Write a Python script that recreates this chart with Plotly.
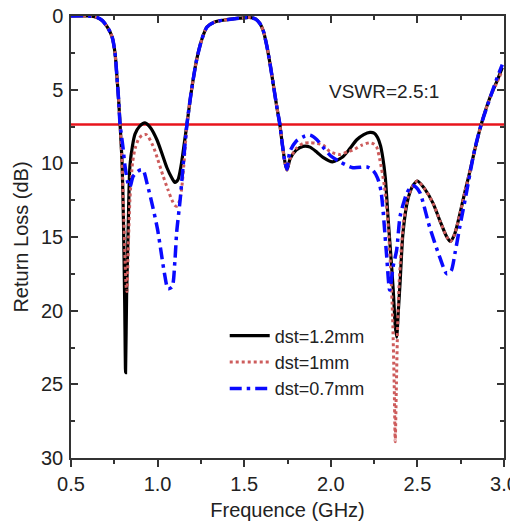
import plotly.graph_objects as go

# ---------------- data ----------------
freq_12 = [0.50, 0.60, 0.65, 0.68, 0.71, 0.737, 0.754, 0.765, 0.775, 0.783, 0.795, 0.803, 0.810, 0.815,
           0.821, 0.830, 0.840, 0.855, 0.870, 0.895, 0.927, 0.960, 0.996, 1.030, 1.054, 1.080, 1.100,
           1.118, 1.135, 1.150, 1.170, 1.195, 1.225, 1.255, 1.285, 1.33, 1.40, 1.47, 1.53, 1.565,
           1.59, 1.61, 1.63, 1.65, 1.67, 1.69, 1.705, 1.72, 1.735, 1.747, 1.765, 1.80, 1.84, 1.88,
           1.92, 1.955, 2.01, 2.07, 2.11, 2.15, 2.19, 2.226, 2.25, 2.27, 2.287, 2.30, 2.315, 2.33,
           2.345, 2.36, 2.372, 2.38, 2.39, 2.40, 2.417, 2.446, 2.475, 2.50, 2.54, 2.59, 2.63, 2.67,
           2.69, 2.715, 2.746, 2.775, 2.80, 2.835, 2.87, 2.92, 2.96, 2.99]
rl_12 = [0.0, 0.0, 0.1, 0.3, 0.75, 1.4, 2.5, 4.1, 5.7, 7.3, 10.0, 14.0, 19.5, 24.2,
         19.0, 14.5, 10.2, 8.8, 8.0, 7.5, 7.25, 7.6, 8.4, 9.5, 10.3, 10.95, 11.3,
         11.1, 10.2, 9.0, 7.3, 5.1, 3.0, 1.6, 0.75, 0.4, 0.25, 0.15, 0.1, 0.2,
         0.5, 1.0, 2.0, 3.3, 4.8, 6.3, 7.3, 8.7, 9.9, 10.45, 9.7, 9.1, 8.85, 8.9,
         9.25, 9.6, 9.9, 9.55, 9.0, 8.4, 8.05, 7.9, 7.95, 8.25, 8.8, 9.6, 11.0, 13.6,
         16.0, 18.5, 21.0, 21.8, 20.0, 18.1, 14.7, 12.4, 11.5, 11.2, 11.7, 12.7, 13.9, 15.0,
         15.3, 14.8, 13.4, 11.9, 10.7, 8.9, 7.3, 5.5, 4.4, 3.5]

freq_10 = [0.50, 0.60, 0.65, 0.68, 0.71, 0.737, 0.754, 0.765, 0.775, 0.783, 0.795, 0.803, 0.812, 0.818,
           0.823, 0.830, 0.840, 0.855, 0.870, 0.890, 0.910, 0.935, 0.973, 1.00, 1.03, 1.06, 1.083,
           1.100, 1.112, 1.128, 1.140, 1.155, 1.170, 1.195, 1.225, 1.255, 1.285, 1.33, 1.40, 1.47,
           1.53, 1.565, 1.59, 1.61, 1.63, 1.65, 1.67, 1.69, 1.705, 1.72, 1.735, 1.747, 1.765, 1.80,
           1.84, 1.88, 1.92, 1.955, 1.995, 2.053, 2.10, 2.128, 2.18, 2.226, 2.25, 2.265, 2.284,
           2.31, 2.33, 2.345, 2.357, 2.366, 2.372, 2.378, 2.386, 2.395, 2.405, 2.42, 2.446, 2.475,
           2.50, 2.54, 2.59, 2.63, 2.67, 2.69, 2.715, 2.746, 2.775, 2.80, 2.835, 2.87, 2.92, 2.96, 2.99]
rl_10 = [0.0, 0.0, 0.1, 0.3, 0.75, 1.4, 2.5, 4.1, 5.7, 7.3, 10.0, 13.0, 16.5, 18.3,
         18.7, 16.0, 12.5, 10.0, 9.0, 8.35, 8.1, 8.05, 8.8, 9.7, 10.8, 11.8, 12.5,
         12.85, 12.9, 12.5, 11.6, 9.6, 7.3, 5.1, 3.0, 1.6, 0.75, 0.4, 0.25, 0.15,
         0.1, 0.2, 0.5, 1.0, 2.0, 3.3, 4.8, 6.3, 7.3, 8.7, 9.9, 10.45, 9.7, 9.0,
         8.65, 8.6, 8.65, 8.76, 9.2, 9.4, 9.2, 9.1, 8.76, 8.6, 8.7, 8.9, 9.8,
         11.6, 14.0, 17.0, 20.5, 25.0, 28.9, 25.5, 21.0, 18.0, 16.2, 14.0, 12.3, 11.5,
         11.2, 11.7, 12.7, 13.9, 15.0, 15.3, 14.8, 13.4, 11.9, 10.7, 8.9, 7.3, 5.5, 4.5, 3.7]

freq_07 = [0.50, 0.60, 0.65, 0.68, 0.71, 0.737, 0.754, 0.765, 0.775, 0.783, 0.800, 0.812, 0.828,
           0.840, 0.858, 0.880, 0.900, 0.916, 0.940, 0.973, 1.00, 1.02, 1.04, 1.06, 1.083, 1.10,
           1.11, 1.13, 1.147, 1.170, 1.195, 1.225, 1.255, 1.285, 1.33, 1.40, 1.47, 1.53, 1.565,
           1.59, 1.61, 1.63, 1.65, 1.67, 1.69, 1.705, 1.72, 1.735, 1.747, 1.764, 1.80, 1.84,
           1.88, 1.92, 1.955, 2.00, 2.053, 2.128, 2.21, 2.245, 2.27, 2.29, 2.32, 2.34, 2.36,
           2.38, 2.40, 2.42, 2.44, 2.47, 2.49, 2.515, 2.57, 2.63, 2.67, 2.695, 2.717, 2.745,
           2.775, 2.83, 2.87, 2.93, 2.96, 2.99]
rl_07 = [0.0, 0.0, 0.1, 0.3, 0.75, 1.4, 2.5, 4.1, 5.7, 7.3, 8.9, 10.2, 11.3,
         11.6, 10.9, 10.6, 10.45, 10.45, 11.4, 13.0, 14.5, 16.0, 17.5, 18.5, 18.4, 16.6,
         14.7, 12.5, 10.2, 7.3, 5.1, 3.0, 1.6, 0.75, 0.4, 0.25, 0.15, 0.1, 0.2,
         0.5, 1.0, 2.0, 3.3, 4.8, 6.3, 7.3, 8.7, 9.9, 10.4, 9.2, 8.5, 8.2,
         8.08, 8.4, 8.9, 9.5, 9.9, 10.3, 10.25, 10.5, 11.0, 11.9, 15.9, 18.6, 17.0,
         15.9, 13.6, 12.7, 12.0, 11.5, 11.6, 12.0, 14.3, 16.4, 17.5, 17.3, 16.1, 14.3,
         12.5, 9.1, 7.3, 5.2, 4.2, 3.3]

series_names = ["dst=1.2mm", "dst=1mm", "dst=0.7mm"]
vswr_level = 7.36
vswr_label = "VSWR=2.5:1"
vswr_label_pos = (2.307, 5.15)

x_ticks = [0.5, 1.0, 1.5, 2.0, 2.5, 3.0]
y_ticks = [0, 5, 10, 15, 20, 25, 30]

FONT = "Liberation Sans, Arial, sans-serif"

fig = go.Figure()
fig.add_trace(go.Scatter(x=freq_12, y=rl_12, name=series_names[0], mode="lines",
                         line=dict(color="#000000", width=3.2, shape="spline", smoothing=0.7)))
fig.add_trace(go.Scatter(x=freq_10, y=rl_10, name=series_names[1], mode="lines",
                         line=dict(color="#cd5c5c", width=3, dash="dot", shape="spline", smoothing=0.7)))
fig.add_trace(go.Scatter(x=freq_07, y=rl_07, name=series_names[2], mode="lines",
                         line=dict(color="#0a0aff", width=3.5, dash="12px,5px,3.5px,5px",
                                   shape="spline", smoothing=0.7)))
# invisible trace to activate the top axis
fig.add_trace(go.Scatter(x=freq_12, y=rl_12, xaxis="x2", mode="lines", showlegend=False,
                         hoverinfo="skip", line=dict(width=0, color="rgba(0,0,0,0)")))

fig.add_hline(y=vswr_level, line=dict(color="#e8141c", width=2.5), layer="below")
fig.add_annotation(x=vswr_label_pos[0], y=vswr_label_pos[1], text=vswr_label, showarrow=False,
                   font=dict(size=19, color="#222", family=FONT))

axis_col = "#333333"
# the page body adds an 8px offset, so the figure is 8px smaller and shifted margins
fig.update_layout(
    width=510, height=513,
    margin=dict(l=63, r=14, t=8, b=63, autoexpand=False),
    paper_bgcolor="white", plot_bgcolor="white",
    font=dict(family=FONT, color="#222"),
    showlegend=True,
    legend=dict(x=0.355, y=0.318, xanchor="left", yanchor="top",
                bgcolor="rgba(0,0,0,0)", font=dict(size=18, family=FONT),
                tracegroupgap=0, itemwidth=40),
    xaxis=dict(range=[0.5, 3.0], tickvals=x_ticks, tickformat=".1f", automargin=False,
               ticks="outside", ticklen=7, tickwidth=1.5, tickcolor=axis_col,
               showline=True, linecolor=axis_col, linewidth=1.5, mirror=True,
               showgrid=False, zeroline=False, ticklabeloverflow="allow",
               minor=dict(dtick=0.25, ticks="outside", ticklen=4, tickwidth=1.5, tickcolor=axis_col),
               tickfont=dict(size=20, family=FONT),
               title=dict(text="Frequence (GHz)", font=dict(size=20, family=FONT), standoff=9)),
    xaxis2=dict(range=[0.5, 3.0], overlaying="x", side="top", tickvals=x_ticks, automargin=False,
                ticks="inside", ticklen=7, tickwidth=1.5, tickcolor=axis_col,
                showticklabels=False, showline=False, showgrid=False, zeroline=False,
                minor=dict(dtick=0.25, ticks="inside", ticklen=4, tickwidth=1.5, tickcolor=axis_col)),
    yaxis=dict(range=[30, 0], tickvals=y_ticks, automargin=False,
               ticks="inside", ticklen=7, tickwidth=1.5, tickcolor=axis_col,
               showline=True, linecolor=axis_col, linewidth=1.5, mirror="ticks",
               showgrid=False, zeroline=False, ticklabelstandoff=2, ticklabeloverflow="allow",
               minor=dict(dtick=2.5, ticks="inside", ticklen=4, tickwidth=1.5, tickcolor=axis_col),
               tickfont=dict(size=20, family=FONT),
               title=dict(text="Return Loss (dB)", font=dict(size=20, family=FONT), standoff=7)),
)

fig.write_html("out.html")
